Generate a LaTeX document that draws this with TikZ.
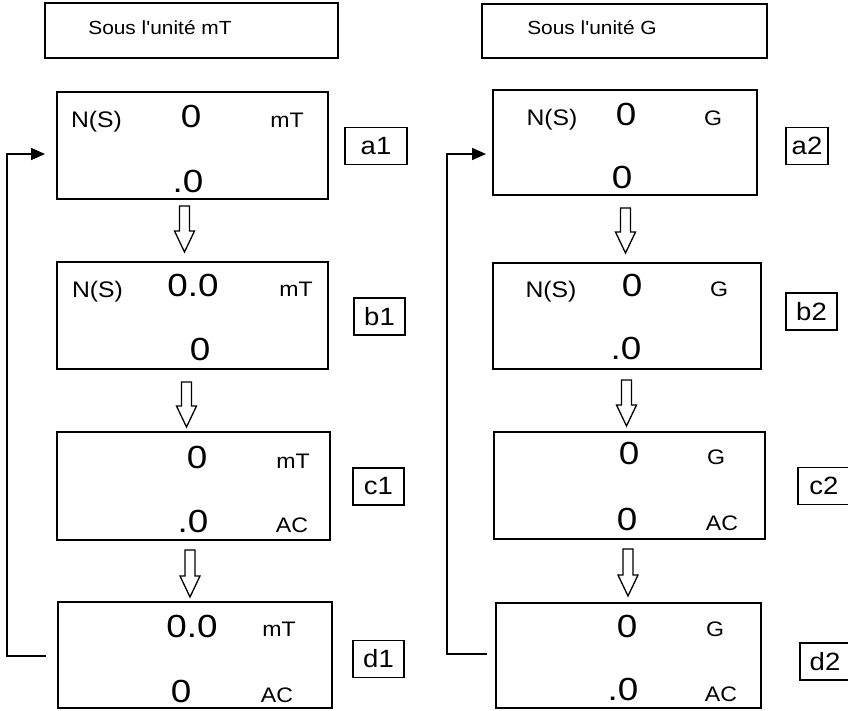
\documentclass[tikz,border=0pt]{standalone}
\usepackage{fontspec}
\setmainfont{Liberation Sans}
\newfontfamily\dispfont[FakeStretch=1.1]{Liberation Sans}
\newfontfamily\bigfont[FakeStretch=1.15]{Liberation Sans}
\usetikzlibrary{arrows.meta,calc}
\tikzset{
  box/.style={draw, line width=1.7pt, inner sep=0pt},
  titlebox/.style={draw, line width=1.4pt, inner sep=0pt, minimum width=#1, minimum height=55pt},
  ttl/.style={font=\dispfont\fontsize{19}{21}\selectfont, anchor=base, inner sep=0pt},
  lbl/.style={font=\dispfont\fontsize{22.5}{24}\selectfont, anchor=base, inner sep=0pt},
  unit/.style={font=\dispfont\fontsize{21}{23}\selectfont, anchor=base, inner sep=0pt},
  big/.style={font=\bigfont\fontsize{32}{34}\selectfont, anchor=base, inner sep=0pt},
  tagbox/.style={draw, line width=1.4pt, inner sep=0pt, minimum height=37pt, minimum width=#1,
    font=\dispfont\fontsize{25}{27}\selectfont},
  conn/.style={line width=1.6pt},
  hollow/.style={line width=1.3pt, line join=miter}
}
\newcommand\hollowarr[3]{%
  \draw[hollow] (#1-5,#2) -- (#1+5,#2) -- (#1+5,#3-21) -- (#1+10,#3-21) -- (#1,#3)
    -- (#1-10,#3-21) -- (#1-5,#3-21) -- cycle;}
\begin{document}
\begin{tikzpicture}[x=1pt,y=-1pt]
\useasboundingbox (0,0) rectangle (848,710);
\clip (0,0) rectangle (848,710);
% titles
\node[titlebox=293pt] (t1) at (191.5,30.5) {};
\node[ttl] (t1txt) at (160,34.5) {Sous l'unité mT};
\node[titlebox=285pt, minimum height=54pt] (t2) at (624.5,31) {};
\node[ttl] (t2txt) at (592,34.5) {Sous l'unité G};
% left column boxes
\node[box, minimum width=271pt, minimum height=107pt] (a1) at (192.5,145.5) {};
\node[box, minimum width=271pt, minimum height=107pt] (b1) at (192.5,315.5) {};
\node[box, minimum width=273pt, minimum height=108pt] (c1) at (193.5,486) {};
\node[box, minimum width=274pt, minimum height=106pt] (d1) at (195,655) {};
% right column boxes
\node[box, minimum width=264pt, minimum height=105pt] (a2) at (625,142.5) {};
\node[box, minimum width=268pt, minimum height=106pt] (b2) at (627,316) {};
\node[box, minimum width=271pt, minimum height=107pt] (c2) at (629.5,485.5) {};
\node[box, minimum width=265pt, minimum height=105pt] (d2) at (628.5,655.5) {};
% a1
\node[lbl] (a1ns) at (96.5,127) {N(S)};
\node[big] (a1v) at (191,127) {0};
\node[unit] (a1u) at (287,127) {mT};
\node[big] (a1w) at (188,192) {.0};
\node[tagbox=62pt] (a1t) at (376,146) {a1};
% b1
\node[lbl] (b1ns) at (97.5,297) {N(S)};
\node[big] (b1v) at (193,296) {0.0};
\node[unit] (b1u) at (296,296) {mT};
\node[big] (b1w) at (200,360) {0};
\node[tagbox=51pt] (b1t) at (379.5,316.5) {b1};
% c1
\node[big] (c1v) at (197,468) {0};
\node[unit] (c1u) at (293,468) {mT};
\node[big] (c1w) at (193,532) {.0};
\node[unit] (c1ac) at (292,532) {AC};
\node[tagbox=51pt] (c1t) at (378.5,486.5) {c1};
% d1
\node[big] (d1v) at (192,637) {0.0};
\node[unit] (d1u) at (279,636) {mT};
\node[big] (d1w) at (181,702) {0};
\node[unit] (d1ac) at (277,702) {AC};
\node[tagbox=51pt] (d1t) at (378.5,659) {d1};
% a2
\node[lbl] (a2ns) at (552,125) {N(S)};
\node[big] (a2v) at (626,125) {0};
\node[unit] (a2u) at (713,125) {G};
\node[big] (a2w) at (622,188) {0};
\node[tagbox=42pt] (a2t) at (807,146) {a2};
% b2
\node[lbl] (b2ns) at (551,297) {N(S)};
\node[big] (b2v) at (632,296) {0};
\node[unit] (b2u) at (719,296) {G};
\node[big] (b2w) at (626,359) {.0};
\node[tagbox=51pt] (b2t) at (811.5,311.5) {b2};
% c2
\node[big] (c2v) at (629,464) {0};
\node[unit] (c2u) at (716,464) {G};
\node[big] (c2w) at (627,530) {0};
\node[unit] (c2ac) at (722,530) {AC};
\node[tagbox=52pt] (c2t) at (824,486) {c2};
% d2
\node[big] (d2v) at (627,637) {0};
\node[unit] (d2u) at (715,636) {G};
\node[big] (d2w) at (623,700) {.0};
\node[unit] (d2ac) at (721,701) {AC};
\node[tagbox=50pt] (d2t) at (825,661.5) {d2};
% hollow arrows
\hollowarr{184.5}{206}{252}
\hollowarr{186.5}{382}{427}
\hollowarr{190}{550}{597}
\hollowarr{625.5}{208}{253}
\hollowarr{626.5}{380}{426}
\hollowarr{628}{549}{596}
% feedback connectors
\coordinate (fbL1) at (46,656);
\coordinate (fbL2) at (45,154);
\draw[conn, -{Triangle[length=14pt,width=12pt]}] (fbL1) -- ++(-39,0) |- (fbL2);
\coordinate (fbR1) at (487,654);
\coordinate (fbR2) at (486,154);
\draw[conn, -{Triangle[length=14pt,width=12pt]}] (fbR1) -- ++(-40,0) |- (fbR2);
\end{tikzpicture}
\end{document}
